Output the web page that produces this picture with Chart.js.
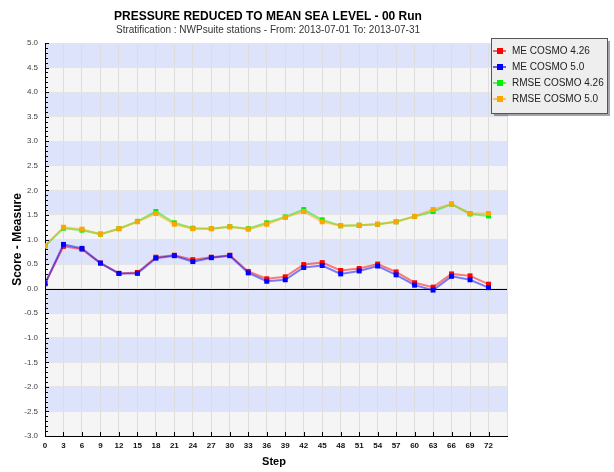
<!DOCTYPE html>
<html>
<head>
<meta charset="utf-8">
<script src="https://cdn.jsdelivr.net/npm/chart.js@4/dist/chart.umd.min.js"></script>
<style>
  html, body { margin: 0; padding: 0; background: #ffffff; }
  #wrap { position: relative; width: 614px; height: 472px; }
</style>
</head>
<body>
<div id="wrap"><canvas id="scoreChart" width="614" height="472"></canvas></div>
<script>
const titleText = 'PRESSURE REDUCED TO MEAN SEA LEVEL - 00 Run';
const subtitleText = 'Stratification : NWPsuite stations - From: 2013-07-01 To: 2013-07-31';
const xAxisTitle = 'Step';
const yAxisTitle = 'Score - Measure';

const steps = [0, 3, 6, 9, 12, 15, 18, 21, 24, 27, 30, 33, 36, 39, 42, 45, 48, 51, 54, 57, 60, 63, 66, 69, 72];
const seriesNames = ['ME COSMO 4.26', 'ME COSMO 5.0', 'RMSE COSMO 4.26', 'RMSE COSMO 5.0'];
const seriesColors = ['#ff0000', '#0000ff', '#00ee00', '#ffa500'];
// lower order is drawn on top
const seriesOrder = [4, 3, 2, 1];

const meCosmo426 = [0.10, 0.86, 0.80, 0.52, 0.31, 0.33, 0.64, 0.68, 0.59, 0.64, 0.68, 0.35, 0.20, 0.24, 0.49, 0.53, 0.37, 0.41, 0.50, 0.34, 0.12, 0.03, 0.30, 0.26, 0.09];
const meCosmo50 = [0.10, 0.90, 0.82, 0.52, 0.31, 0.31, 0.62, 0.67, 0.55, 0.63, 0.67, 0.32, 0.15, 0.18, 0.43, 0.47, 0.30, 0.36, 0.46, 0.28, 0.07, -0.03, 0.25, 0.18, 0.02];
const rmseCosmo426 = [0.87, 1.23, 1.19, 1.11, 1.22, 1.37, 1.57, 1.34, 1.23, 1.22, 1.26, 1.22, 1.34, 1.46, 1.61, 1.40, 1.28, 1.29, 1.31, 1.36, 1.47, 1.57, 1.72, 1.52, 1.48];
const rmseCosmo50 = [0.87, 1.25, 1.21, 1.11, 1.22, 1.36, 1.53, 1.31, 1.22, 1.22, 1.26, 1.21, 1.31, 1.45, 1.57, 1.36, 1.28, 1.29, 1.31, 1.36, 1.47, 1.61, 1.72, 1.53, 1.53];

const yMin = -3.0;
const yMax = 5.0;
const xMax = 75;

function toPoints(values) {
    return steps.map(function (s, i) { return { x: s, y: values[i] }; });
}

function fade(hex, a) {
    const n = parseInt(hex.slice(1), 16);
    return 'rgba(' + (n >> 16) + ',' + ((n >> 8) & 255) + ',' + (n & 255) + ',' + a + ')';
}

const allSeries = [meCosmo426, meCosmo50, rmseCosmo426, rmseCosmo50];

const datasets = allSeries.map(function (values, i) {
    return {
        label: seriesNames[i],
        data: toPoints(values),
        order: seriesOrder[i],
        borderColor: fade(seriesColors[i], 0.5),
        backgroundColor: seriesColors[i],
        borderWidth: 2,
        pointStyle: 'rect',
        pointRadius: 3.5,
        pointBorderWidth: 0,
        pointBackgroundColor: seriesColors[i],
        tension: 0
    };
});

// alternating bands, zero line, inward ticks, titles, legend
const plotDecor = {
    id: 'plotDecor',
    beforeDraw: function (chart) {
        const ctx = chart.ctx;
        const area = chart.chartArea;
        const y = chart.scales.y;
        ctx.save();
        for (let v = yMin; v < yMax - 0.01; v += 0.5) {
            const k = Math.round(v * 2);
            const top = y.getPixelForValue(v + 0.5);
            const bot = y.getPixelForValue(v);
            ctx.fillStyle = (Math.abs(k) % 2 === 1) ? '#dce3fb' : '#f5f5f5';
            ctx.fillRect(area.left, top, area.right - area.left, bot - top);
        }
        ctx.restore();
    },
    beforeDatasetsDraw: function (chart) {
        const ctx = chart.ctx;
        const area = chart.chartArea;
        const x = chart.scales.x;
        const y = chart.scales.y;
        ctx.save();
        ctx.strokeStyle = '#000000';
        ctx.lineWidth = 1;
        const y0 = Math.round(y.getPixelForValue(0)) + 0.5;
        ctx.beginPath();
        ctx.moveTo(area.left, y0);
        ctx.lineTo(area.right, y0);
        ctx.stroke();

        ctx.beginPath();
        for (let i = 0; i <= 80; i++) {
            const v = yMin + i * 0.1;
            const py = Math.round(y.getPixelForValue(v)) + 0.5;
            const len = (i % 5 === 0) ? 4 : 3;
            ctx.moveTo(area.left, py);
            ctx.lineTo(area.left + len, py);
        }
        steps.forEach(function (s) {
            const px = Math.round(x.getPixelForValue(s)) + 0.5;
            ctx.moveTo(px, area.bottom);
            ctx.lineTo(px, area.bottom - 4);
        });
        ctx.stroke();
        ctx.restore();
    },
    afterDraw: function (chart) {
        const ctx = chart.ctx;
        const area = chart.chartArea;
        ctx.save();
        ctx.fillStyle = '#000000';
        ctx.textAlign = 'center';
        ctx.textBaseline = 'middle';
        ctx.font = 'bold 12px "Liberation Sans", Arial, sans-serif';
        ctx.fillText(titleText, 268, 17);
        ctx.fillStyle = '#333333';
        ctx.font = '10px "Liberation Sans", Arial, sans-serif';
        ctx.fillText(subtitleText, 268, 30);

        ctx.fillStyle = '#000000';
        ctx.font = 'bold 11px "Liberation Sans", Arial, sans-serif';
        ctx.fillText(xAxisTitle, (area.left + area.right) / 2 - 2, 462);

        ctx.translate(18, (area.top + area.bottom) / 2);
        ctx.rotate(-Math.PI / 2);
        ctx.font = 'bold 12px "Liberation Sans", Arial, sans-serif';
        ctx.fillText(yAxisTitle, 0, 0);
        ctx.restore();

        // legend box
        const bx = 491, by = 38, bw = 116, bh = 75;
        ctx.save();
        ctx.fillStyle = 'rgba(0,0,0,0.35)';
        ctx.fillRect(bx + 3, by + 3, bw, bh);
        ctx.fillStyle = '#eeeeee';
        ctx.fillRect(bx, by, bw, bh);
        ctx.strokeStyle = '#555555';
        ctx.lineWidth = 1;
        ctx.strokeRect(bx + 0.5, by + 0.5, bw, bh);
        ctx.font = '10px "Liberation Sans", Arial, sans-serif';
        ctx.textAlign = 'left';
        ctx.textBaseline = 'middle';
        seriesNames.forEach(function (name, i) {
            const ly = by + 13 + i * 16;
            ctx.strokeStyle = fade(seriesColors[i], 0.6);
            ctx.lineWidth = 2;
            ctx.beginPath();
            ctx.moveTo(bx + 2, ly);
            ctx.lineTo(bx + 15, ly);
            ctx.stroke();
            ctx.fillStyle = seriesColors[i];
            ctx.fillRect(bx + 6, ly - 3, 6, 6);
            ctx.fillStyle = '#222222';
            ctx.fillText(name, bx + 21, ly);
        });
        ctx.restore();
    }
};

new Chart(document.getElementById('scoreChart'), {
    type: 'line',
    data: { datasets: datasets },
    plugins: [plotDecor],
    options: {
        responsive: false,
        animation: false,
        layout: {
            padding: { left: 0, right: 107, top: 43, bottom: 0 }
        },
        plugins: {
            legend: { display: false },
            title: { display: false },
            tooltip: { enabled: false }
        },
        scales: {
            x: {
                type: 'linear',
                min: 0,
                max: xMax,
                afterFit: function (scale) { scale.height = 36; },
                grid: { color: '#dddddd', drawTicks: false },
                border: { color: '#000000', width: 1 },
                ticks: {
                    stepSize: 3,
                    padding: 5,
                    color: '#111111',
                    font: { size: 8, weight: 'bold', family: '"Liberation Sans", Arial, sans-serif' },
                    callback: function (value) { return value > 72 ? '' : String(value); },
                    maxRotation: 0,
                    autoSkip: false
                }
            },
            y: {
                min: yMin,
                max: yMax,
                afterFit: function (scale) { scale.width = 45; },
                grid: { color: '#e4e4e4', drawTicks: false },
                border: { color: '#000000', width: 1 },
                ticks: {
                    stepSize: 0.5,
                    padding: 7,
                    color: '#444444',
                    font: { size: 8, family: '"Liberation Sans", Arial, sans-serif' },
                    callback: function (value) { return Number(value).toFixed(1); }
                }
            }
        }
    }
});
</script>
</body>
</html>
